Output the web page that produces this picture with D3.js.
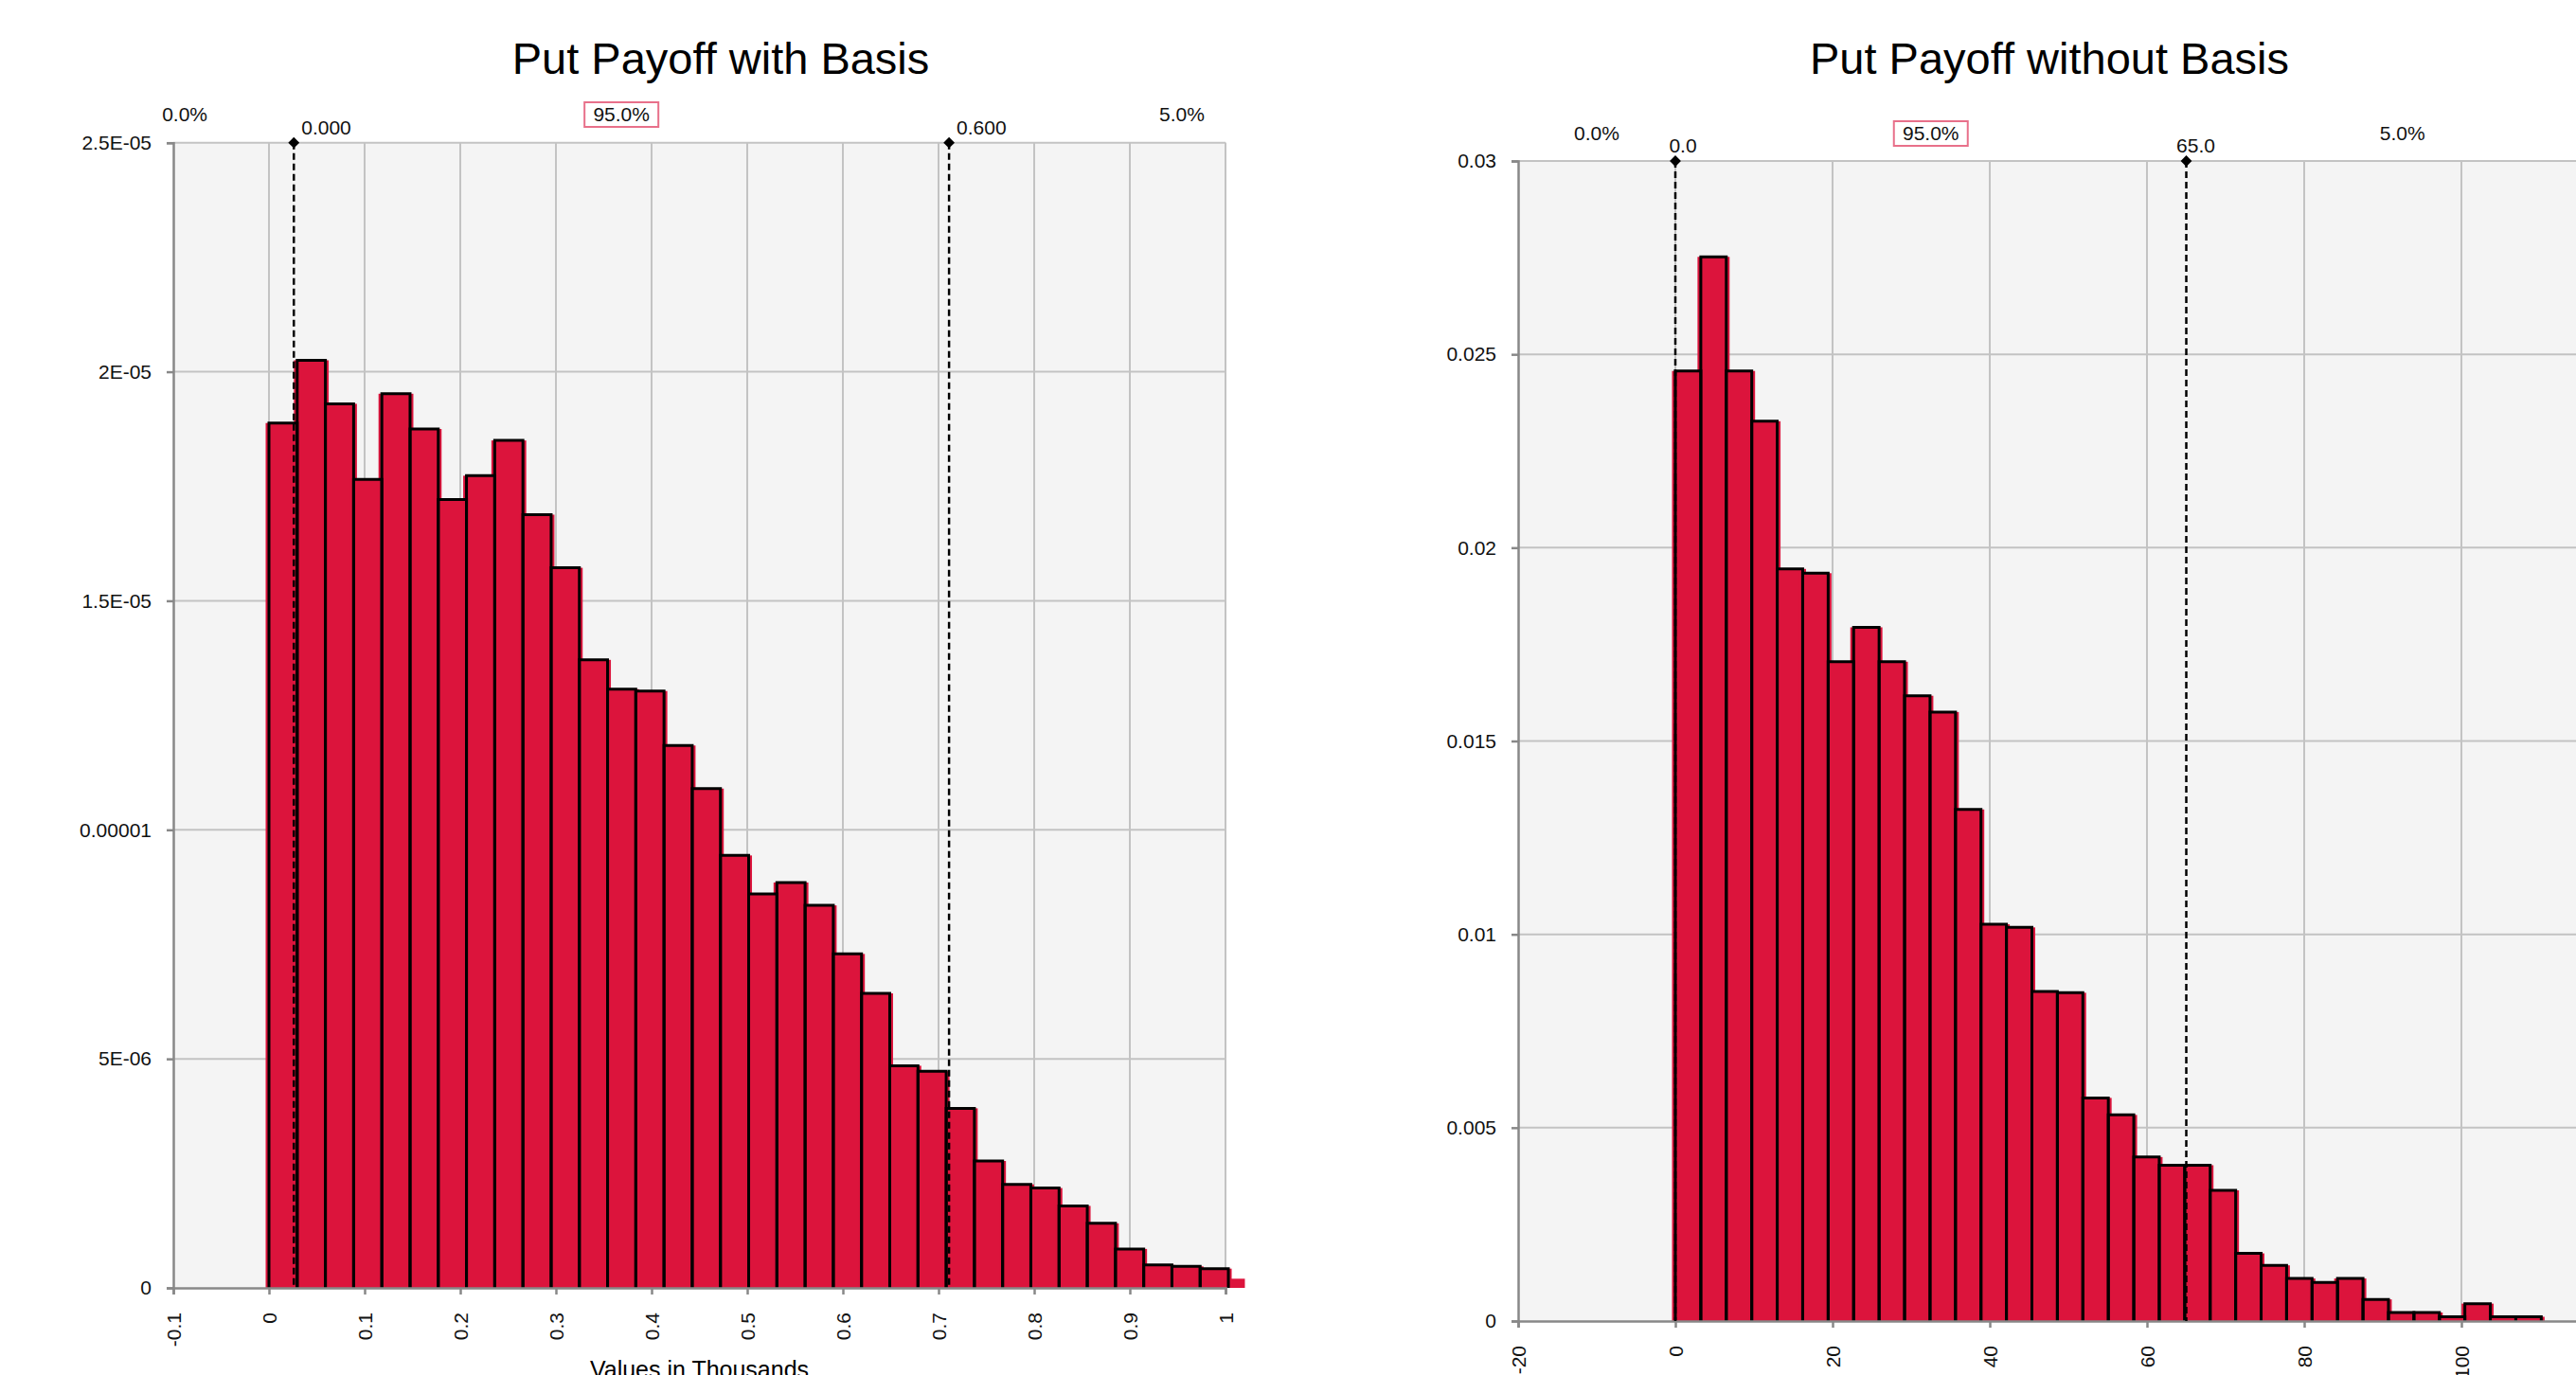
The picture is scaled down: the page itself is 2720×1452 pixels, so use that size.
<!DOCTYPE html>
<html>
<head>
<meta charset="utf-8">
<script src="https://cdn.jsdelivr.net/npm/d3@7/dist/d3.min.js"></script>
<style>
  html, body { margin: 0; padding: 0; background: #fff; overflow: hidden; }
  svg { display: block; font-family: "Liberation Sans", Arial, sans-serif; }
</style>
</head>
<body>
<svg id="chart" width="2720" height="1452"></svg>
<script>
// ---- Put Payoff with Basis (values in thousands) ----
const basisTitle = "Put Payoff with Basis";
const basisDensity = [
  1.888e-5, 2.025e-5, 1.930e-5, 1.765e-5, 1.952e-5, 1.875e-5, 1.721e-5, 1.773e-5, 1.850e-5, 1.688e-5,
  1.572e-5, 1.371e-5, 1.307e-5, 1.303e-5, 1.184e-5, 1.090e-5, 9.44e-6, 8.60e-6, 8.85e-6, 8.35e-6,
  7.29e-6, 6.43e-6, 4.85e-6, 4.73e-6, 3.92e-6, 2.77e-6, 2.26e-6, 2.18e-6, 1.79e-6, 1.41e-6,
  8.5e-7, 5.0e-7, 4.7e-7, 4.2e-7
];
const basisTail = [{ x0: 1.0029, x1: 1.0168, v: 2.0e-7 }];
const basisBinStart = 0, basisBinWidth = 0.0295;
const basisXTicks = [-0.1, 0, 0.1, 0.2, 0.3, 0.4, 0.5, 0.6, 0.7, 0.8, 0.9, 1];
const basisXLabels = ["-0.1", "0", "0.1", "0.2", "0.3", "0.4", "0.5", "0.6", "0.7", "0.8", "0.9", "1"];
const basisYTicks = [0, 5e-6, 1e-5, 1.5e-5, 2e-5, 2.5e-5];
const basisYLabels = ["0", "5E-06", "0.00001", "1.5E-05", "2E-05", "2.5E-05"];
const basisDelims = [0.026, 0.711];
const basisDelimLabels = ["0.000", "0.600"];
const basisShareLabels = ["0.0%", "95.0%", "5.0%"];
const basisSharePos = [-0.088, 0.3685, 0.9545];

// ---- Put Payoff without Basis ----
const noBasisTitle = "Put Payoff without Basis";
const noBasisDensity = [
  0.02457, 0.02752, 0.02457, 0.02327, 0.01945, 0.01934, 0.01705, 0.01794, 0.01705, 0.01617,
  0.01575, 0.01323, 0.01026, 0.01018, 0.00852, 0.00849, 0.00577, 0.00533, 0.00424, 0.00403,
  0.00403, 0.00338, 0.00175, 0.00144, 0.00110, 0.00100, 0.00110, 0.00056, 0.00022, 0.00022,
  0.00011, 0.00045, 0.00011, 0.00011
];
const noBasisBinStart = 0, noBasisBinWidth = 3.24;
const noBasisXTicks = [-20, 0, 20, 40, 60, 80, 100];
const noBasisXLabels = ["-20", "0", "20", "40", "60", "80", "100"];
const noBasisYTicks = [0, 0.005, 0.01, 0.015, 0.02, 0.025, 0.03];
const noBasisYLabels = ["0", "0.005", "0.01", "0.015", "0.02", "0.025", "0.03"];
const noBasisDelims = [0, 65];
const noBasisDelimLabels = ["0.0", "65.0"];
const noBasisShareLabels = ["0.0%", "95.0%", "5.0%"];
const noBasisSharePos = [-10, 32.5, 92.5];

const svg = d3.select("#chart");
const RED = "#dc143c";

function drawHistogram(cfg) {
  const x = d3.scaleLinear().domain(cfg.xDomain).range(cfg.xRange);
  const y = d3.scaleLinear().domain(cfg.yDomain).range(cfg.yRange);
  const [L, R] = cfg.xRange, [B, T] = cfg.yRange;
  const g = svg.append("g");

  // plot background
  g.append("rect").attr("x", L).attr("y", T).attr("width", R - L).attr("height", B - T)
    .attr("fill", "#f4f4f4");

  // grid
  g.append("g").selectAll("line").data(cfg.yTicks.slice(1)).join("line")
    .attr("x1", L).attr("x2", R).attr("y1", d => y(d)).attr("y2", d => y(d))
    .attr("stroke", "#c3c3c3").attr("stroke-width", 2);
  g.append("g").selectAll("line").data(cfg.xTicks.slice(1).concat(cfg.xDomain[1])).join("line")
    .attr("x1", d => x(d)).attr("x2", d => x(d)).attr("y1", T).attr("y2", B)
    .attr("stroke", "#c3c3c3").attr("stroke-width", 2);

  const bins = cfg.density.map((v, i) => ({
    x0: cfg.binStart + i * cfg.binWidth,
    x1: cfg.binStart + (i + 1) * cfg.binWidth,
    v
  }));

  // red fill (slightly wider than the outlines, as in the original)
  g.append("g").selectAll("rect").data(bins.concat(cfg.tail || [])).join("rect")
    .attr("x", d => x(d.x0) - 3.5)
    .attr("width", d => x(d.x1) - x(d.x0) + 7)
    .attr("y", d => y(d.v))
    .attr("height", d => y(0) - y(d.v))
    .attr("fill", RED);

  // black outlines
  g.append("g").selectAll("path").data(bins).join("path")
    .attr("d", d => `M${x(d.x0)},${y(0)}V${y(d.v)}H${x(d.x1)}V${y(0)}`)
    .attr("fill", "none").attr("stroke", "#000").attr("stroke-width", 3)
    .attr("stroke-linejoin", "miter");

  // axes
  const yAxis = g.append("g").attr("transform", `translate(${L},0)`)
    .call(d3.axisLeft(y).tickValues(cfg.yTicks).tickSize(7).tickPadding(16)
      .tickFormat((d, i) => cfg.yLabels[i]));
  yAxis.select(".domain").attr("stroke", "#888").attr("stroke-width", 2.5);
  yAxis.selectAll(".tick line").attr("stroke", "#888").attr("stroke-width", 2.5);
  yAxis.selectAll(".tick text").attr("font-size", 21).attr("fill", "#111");

  const xAxis = g.append("g").attr("transform", `translate(0,${B})`)
    .call(d3.axisBottom(x).tickValues(cfg.xTicks).tickSize(7)
      .tickFormat((d, i) => cfg.xLabels[i]));
  xAxis.select(".domain").attr("stroke", "#888").attr("stroke-width", 2.5);
  xAxis.selectAll(".tick line").attr("stroke", "#888").attr("stroke-width", 2.5);
  xAxis.selectAll(".tick text")
    .attr("font-size", 21).attr("fill", "#111")
    .attr("transform", "rotate(-90)")
    .attr("text-anchor", "end").attr("dy", "0.35em")
    .attr("x", -26).attr("y", 0);

  // delimiters
  const dl = g.append("g").selectAll("g").data(cfg.delims).join("g");
  dl.append("line")
    .attr("x1", d => x(d)).attr("x2", d => x(d)).attr("y1", T).attr("y2", B)
    .attr("stroke", "#000").attr("stroke-width", 2.5).attr("stroke-dasharray", "7,4");
  dl.append("path")
    .attr("transform", d => `translate(${x(d)},${T}) rotate(45)`)
    .attr("d", d3.symbol(d3.symbolSquare, 70))
    .attr("fill", "#000");
  dl.append("text")
    .attr("x", (d, i) => x(d) + cfg.delimDx[i]).attr("y", cfg.delimLabelY)
    .attr("text-anchor", cfg.delimAnchor)
    .attr("font-size", 21).attr("fill", "#111")
    .text((d, i) => cfg.delimLabels[i]);

  // probability shares
  const sh = g.append("g").selectAll("g").data(cfg.shareLabels).join("g");
  sh.filter((d, i) => i === 1).append("rect")
    .attr("x", x(cfg.sharePos[1]) - 39).attr("y", cfg.shareY - 20)
    .attr("width", 78).attr("height", 26)
    .attr("fill", "#fff").attr("stroke", "#e8708a").attr("stroke-width", 2);
  sh.append("text")
    .attr("x", (d, i) => x(cfg.sharePos[i])).attr("y", cfg.shareY)
    .attr("text-anchor", "middle").attr("font-size", 21).attr("fill", "#111")
    .text(d => d);

  // titles
  svg.append("text").attr("x", cfg.titleX).attr("y", 78)
    .attr("text-anchor", "middle").attr("font-size", 47).attr("fill", "#000")
    .text(cfg.title);
  if (cfg.xTitle) {
    svg.append("text").attr("x", (L + R) / 2).attr("y", 1455)
      .attr("text-anchor", "middle").attr("font-size", 25).attr("fill", "#000")
      .text(cfg.xTitle);
  }
}

drawHistogram({
  title: basisTitle, titleX: 761, xTitle: "Values in Thousands",
  xDomain: [-0.1, 1.0], xRange: [183, 1294],
  yDomain: [0, 2.5e-5], yRange: [1360, 150.7],
  density: basisDensity, tail: basisTail, binStart: basisBinStart, binWidth: basisBinWidth,
  xTicks: basisXTicks, xLabels: basisXLabels, yTicks: basisYTicks, yLabels: basisYLabels,
  delims: basisDelims, delimLabels: basisDelimLabels, delimDx: [8, 8], delimAnchor: "start",
  delimLabelY: 142, shareLabels: basisShareLabels, sharePos: basisSharePos, shareY: 128
});

drawHistogram({
  title: noBasisTitle, titleX: 2164,
  xDomain: [-20, 120], xRange: [1603, 2765],
  yDomain: [0, 0.03], yRange: [1395, 170],
  density: noBasisDensity, binStart: noBasisBinStart, binWidth: noBasisBinWidth,
  xTicks: noBasisXTicks, xLabels: noBasisXLabels, yTicks: noBasisYTicks, yLabels: noBasisYLabels,
  delims: noBasisDelims, delimLabels: noBasisDelimLabels, delimDx: [8, 10], delimAnchor: "middle",
  delimLabelY: 161, shareLabels: noBasisShareLabels, sharePos: noBasisSharePos, shareY: 148
});
</script>
</body>
</html>
